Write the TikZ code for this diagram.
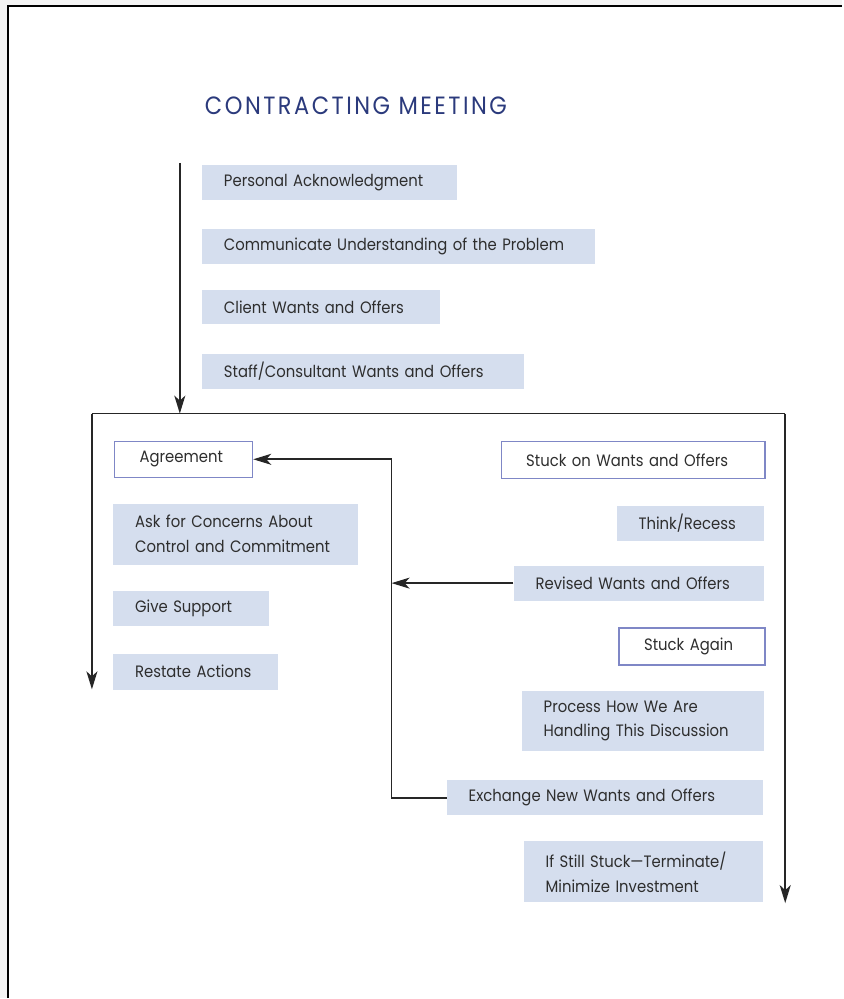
\documentclass[tikz,border=0pt]{standalone}
\usepackage{fontspec}
\setmainfont{Poppins}[FakeStretch=0.9]
\usetikzlibrary{arrows.meta}
\hyphenpenalty=10000
\definecolor{boxfill}{HTML}{D5DEEE}
\definecolor{boxline}{HTML}{7F87C6}
\definecolor{titleblue}{HTML}{2B3A7C}
\definecolor{txt}{HTML}{2E2E2E}
\definecolor{lineblack}{HTML}{262626}
\definecolor{pagegray}{HTML}{F4F4F4}
\begin{document}
\begin{tikzpicture}[x=1pt,y=-1pt,
 base/.style={anchor=north west, inner xsep=22pt, inner ysep=0pt, align=left, text=txt, font=\fontsize{16.5}{25}\selectfont},
 fillbox/.style={base, fill=boxfill},
 linebox/.style={base, fill=white, draw=boxline, line width=1.5pt, inner xsep=25pt},
 arr/.style={draw=lineblack, line width=1.6pt, -{Stealth[length=18pt,width=11pt,inset=5pt]}},
 conn/.style={draw=lineblack, line width=1.6pt}]
\fill[pagegray] (0,0) rectangle (843,999);
\fill[white] (8,6) rectangle (843,999);
\draw[black, line width=2pt] (8,999) -- (8,6) -- (843,6);
\useasboundingbox (0,0) rectangle (843,999);

\node[anchor=base west, inner sep=0pt, text=titleblue, font=\fontsize{25}{25}\selectfont\addfontfeatures{LetterSpace=10}] (title) at (205,115) {CONTRACTING MEETING};

\node[fillbox, text width=211pt, minimum height=35pt] (p1) at (202,165) {Personal Acknowledgment};
\node[fillbox, text width=349pt, minimum height=35pt] (p2) at (202,229) {Communicate Understanding of the Problem};
\node[fillbox, text width=194pt, minimum height=34pt] (p3) at (202,290) {Client Wants and Offers};
\node[fillbox, text width=278pt, minimum height=35pt] (p4) at (202,354) {Staff/Consultant Wants and Offers};

\node[linebox, text width=88pt, minimum height=36pt] (agree) at (114,441) {Agreement};
\node[fillbox, text width=201pt, minimum height=61pt] (ask) at (113,504) {Ask for Concerns About\\Control and Commitment};
\node[fillbox, text width=112pt, minimum height=35pt] (give) at (113,591) {Give Support};
\node[fillbox, text width=121pt, minimum height=36pt] (restate) at (113,654) {Restate Actions};

\node[linebox, text width=214pt, minimum height=37pt] (stuck) at (501,441) {Stuck on Wants and Offers};
\node[fillbox, text width=104pt, minimum height=35pt] (think) at (617,506) {Think/Recess};
\node[fillbox, text width=207pt, minimum height=35pt] (revised) at (514,566) {Revised Wants and Offers};
\node[linebox, text width=96pt, minimum height=37pt] (again) at (619,628) {Stuck Again};
\node[fillbox, text width=199pt, minimum height=61pt] (process) at (522,691) {Process How We Are\\Handling This Discussion};
\node[fillbox, text width=273pt, minimum height=35pt] (exch) at (447,781) {Exchange New Wants and Offers};
\node[fillbox, text width=196pt, minimum height=61pt] (still) at (524,842) {If Still Stuck---Terminate/\\Minimize Investment};

\coordinate (topstart) at (180,163);
\coordinate (topend) at (180,414);
\coordinate (hl) at (92,414);
\coordinate (hr) at (786,414);
\coordinate (lend) at (92,690);
\coordinate (rend) at (786,904);
\coordinate (loopx) at (392,0);

\draw[arr] (topstart) -- (topend);
\draw[conn] (hl) -- (hr);
\draw[arr] (hl) -- (lend);
\draw[arr] (hr) -- (rend);
\draw[arr] (exch.west) -- (exch.west -| loopx) -- (agree.east -| loopx) -- (agree.east);
\draw[arr] (revised.west) -- (revised.west -| loopx);
\end{tikzpicture}
\end{document}
